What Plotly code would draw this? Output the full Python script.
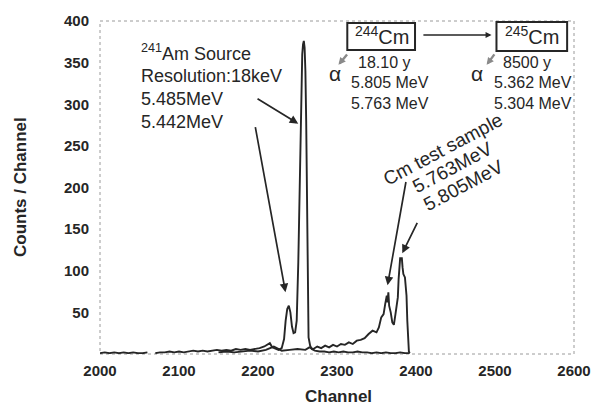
import plotly.graph_objects as go

# --- 241Am source spectrum (channel, counts) ---
am_channel = [2000, 2006, 2012, 2018, 2024, 2030, 2036, 2042, 2048, 2054, 2060,
              2064,
              2070, 2076, 2082, 2088, 2094, 2100, 2106, 2112, 2118, 2124, 2130, 2136,
              2142, 2148, 2154, 2160, 2166, 2172, 2178, 2184, 2190, 2196, 2202, 2208,
              2212, 2215, 2218, 2222, 2226, 2230,
              2233, 2235, 2237, 2239, 2241, 2243, 2245, 2247, 2249, 2251, 2253, 2255,
              2256, 2257, 2258, 2259, 2260, 2261, 2262, 2263, 2264,
              2266, 2268, 2272,
              2278, 2284, 2290, 2296, 2302, 2308, 2314, 2320, 2326, 2332, 2338, 2344, 2350,
              2356, 2362, 2368, 2374, 2380, 2386, 2392]
am_counts = [1, 2, 1, 2, 1, 2, 1, 2, 1, 1, 2,
             None,
             1, 2, 2, 3, 2, 3, 2, 3, 4, 3, 4, 3,
             4, 5, 4, 5, 4, 6, 5, 6, 5, 6, 7, 9,
             11, 13, 8, 6, 5, 7,
             18, 40, 54, 58, 50, 33, 25, 26, 40, 110, 230, 330,
             360, 372, 376, 368, 340, 280, 170, 60, 20,
             10, 6, 4,
             3, 3, 2, 3, 2, 3, 2, 2, 3, 2, 2, 1, 2,
             1, 2, 1, 1, 2, 1, 1]

# --- Cm test sample spectrum (channel, counts) ---
cm_channel = [2150, 2160, 2170, 2180, 2190, 2200, 2210, 2220, 2230, 2240, 2250, 2260,
              2265, 2270, 2275, 2280, 2285, 2290, 2295, 2300, 2305, 2310, 2315, 2320,
              2325, 2330,
              2335, 2340, 2345, 2350, 2353, 2356, 2359,
              2361, 2363, 2364, 2365, 2366, 2368, 2370, 2372, 2374, 2376,
              2377, 2378, 2379, 2380, 2381, 2382, 2383, 2384,
              2386, 2388, 2389, 2390, 2391, 2392]
cm_counts = [2, 3, 2, 3, 4, 3, 5, 9, 4, 5, 6, 5,
             8, 6, 9, 7, 10, 8, 11, 9, 12, 11, 14, 12,
             16, 17,
             19, 24, 28, 26, 32, 44, 48,
             60, 70, 62, 74, 58, 50, 38, 35, 48, 60,
             68, 90, 108, 116, 113, 116, 104, 96,
             92, 70, 40, 15, 3, 1]

x_ticks = [2000, 2100, 2200, 2300, 2400, 2500, 2600]
y_ticks = [50, 100, 150, 200, 250, 300, 350, 400]

FONT = "Liberation Sans, Arial, sans-serif"
INK = "#262626"

# plot-area geometry (pixels) used to place the annotations
L, R, T, B = 100, 583, 20, 354
X0, X1, Y0, Y1 = 2000, 2600, 0, 400


def X(px):
    return X0 + (px - L) / (R - L) * (X1 - X0)


def Y(py):
    return Y0 + (B - py) / (B - T) * (Y1 - Y0)


fig = go.Figure()
for xs, ys in [(am_channel, am_counts), (cm_channel, cm_counts)]:
    fig.add_trace(go.Scatter(x=xs, y=ys, mode="lines", connectgaps=False,
                             line=dict(color=INK, width=1.9), showlegend=False,
                             hoverinfo="skip"))

ann = []


def text(px, py, s, size=16, anchor="left", angle=0, bold=False, color=INK, paper=False):
    if paper:
        pos = dict(x=(px - L) / (R - L), y=(B - py) / (B - T), xref="paper", yref="paper")
    else:
        pos = dict(x=X(px), y=Y(py), xref="x", yref="y")
    ann.append(dict(**pos, text=("<b>%s</b>" % s) if bold else s,
                    showarrow=False, xanchor=anchor, yanchor="middle", textangle=angle,
                    font=dict(family=FONT, size=size, color=color)))


def arrow(x0, y0, x1, y1, color=INK, width=1.7, size=1.0):
    ann.append(dict(x=X(x1), y=Y(y1), ax=X(x0), ay=Y(y0), xref="x", yref="y",
                    axref="x", ayref="y", text="", showarrow=True, arrowhead=2,
                    arrowsize=size, arrowwidth=width, arrowcolor=color))


# 241Am source labels
text(140, 52, "<sup>241</sup>Am Source", 18)
text(140, 75, "Resolution:18keV", 18)
text(140, 98, "5.485MeV", 18)
text(140, 121, "5.442MeV", 18)
arrow(259, 97, 302, 123)
arrow(258, 125, 289, 292)

# decay chain boxes
text(387, 35, "<sup>244</sup>Cm", 20, anchor="center")
text(540, 35, "<sup>245</sup>Cm", 20, anchor="center")
arrow(428, 34, 499, 34, width=1.5, size=0.8)
text(361, 62, "18.10 y", 16)
text(354, 82, "5.805 MeV", 16)
text(354, 103, "5.763 MeV", 16)
text(509, 62, "8500 y", 16)
text(499, 82, "5.362 MeV", 16)
text(499, 103, "5.304 MeV", 16)
text(339, 73, "α", 21, anchor="center")
text(484, 73, "α", 21, anchor="center")
arrow(353, 52, 343, 64, color="#8a8a8a", width=2.4, size=0.6)
arrow(503, 52, 494, 64, color="#8a8a8a", width=2.4, size=0.6)

# Cm test sample labels
text(449, 149, "Cm test sample", 19, anchor="center", angle=-28)
text(459, 167, "5.763MeV", 19, anchor="center", angle=-28)
text(470, 185, "5.805MeV", 19, anchor="center", angle=-28)
arrow(412, 180, 393, 285)
arrow(424, 221, 408, 253)

# axis titles
text(19, 187, "Counts / Channel", 17, anchor="center", angle=-90, bold=True, paper=True)
text(343, 397, "Channel", 17, anchor="center", bold=True, paper=True)

shapes = [
    dict(type="rect", xref="x", yref="y", x0=X(352), x1=X(421), y0=Y(22), y1=Y(49),
         line=dict(color=INK, width=2)),
    dict(type="rect", xref="x", yref="y", x0=X(504), x1=X(576), y0=Y(21), y1=Y(50),
         line=dict(color=INK, width=2)),
    dict(type="rect", xref="paper", yref="paper", x0=0, x1=1, y0=0, y1=1,
         line=dict(color="#9a9a9a", width=1, dash="dot"), layer="below"),
]

fig.update_layout(
    width=603, height=408,
    margin=dict(l=L, r=603 - R, t=T, b=408 - B),
    paper_bgcolor="white", plot_bgcolor="white",
    annotations=ann, shapes=shapes,
    font=dict(family=FONT, color=INK),
)
fig.update_xaxes(range=[X0, X1], tickvals=x_ticks, showgrid=False, zeroline=False,
                 showline=False, ticks="", ticklabelstandoff=6,
                 tickfont=dict(family=FONT, size=15, color=INK, weight="bold"))
fig.update_yaxes(range=[Y0, Y1], tickvals=y_ticks, showgrid=False, zeroline=False,
                 showline=False, ticks="", ticklabelstandoff=10,
                 tickfont=dict(family=FONT, size=15, color=INK, weight="bold"))

fig.write_html("out.html")
